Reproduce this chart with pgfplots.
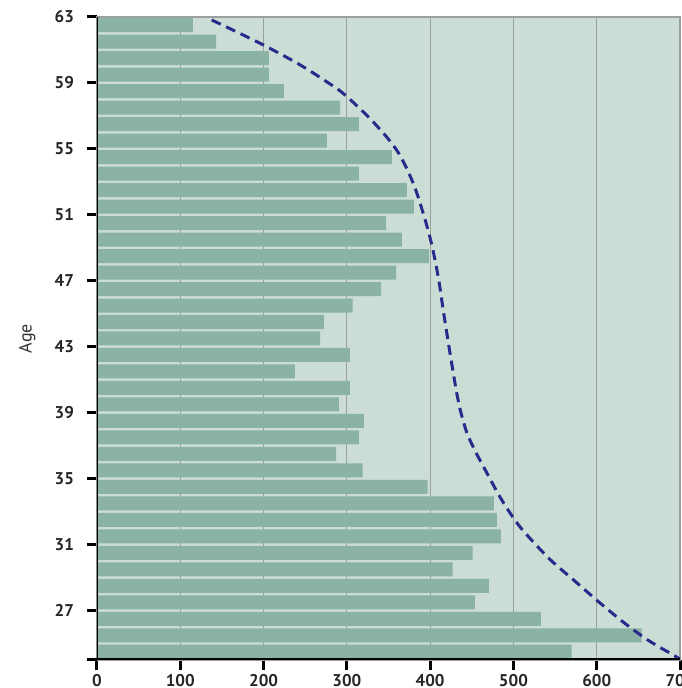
\documentclass[border=0pt]{standalone}
\usepackage{pgfplots}
\pgfplotsset{compat=1.18}
\usepackage{fontspec}
\setmainfont{PT Sans}
\definecolor{bg}{RGB}{204,221,214}
\definecolor{barc}{RGB}{138,179,165}
\definecolor{curvec}{RGB}{42,42,140}
\definecolor{gridc}{RGB}{155,160,158}
\begin{document}
\begin{tikzpicture}
\begin{axis}[name=ax, scale only axis, width=291.5pt, height=321.5pt,
  xmin=0, xmax=700, ymin=24, ymax=63,
  xtick={0,100,...,700}, ytick={27,31,...,63},
  extra y ticks={24}, extra y tick labels={},
  tick pos=left, tick align=outside,
  major tick length=5pt,
  axis background/.style={fill=bg},
  axis line style={gridc, line width=0.6pt},
  xmajorgrids, major grid style={gridc, line width=0.6pt},
  xtick style={black, line width=1.5pt},
  ytick style={black, line width=1.5pt},
  extra y tick style={tick style={black, line width=1.5pt}},
  ticklabel style={font=\fontsize{8.5}{10}\selectfont\bfseries, text=black!85},
  /pgf/number format/assume math mode=true,
  /pgf/number format/1000 sep={},
  xticklabel style={yshift=1.5pt},
  yticklabel style={xshift=-3pt},
  ylabel={Age},
  every axis y label/.style={at={(axis description cs:-0.12,0.5)}, rotate=90, anchor=center, font=\fontsize{9}{11}\selectfont, text=black!80},
]
\addplot[xbar, bar width=0.85, fill=barc, draw=none, bar shift=0pt] coordinates {
(115,62.5) (143,61.5) (206.5,60.5) (206.5,59.5) (224.5,58.5) (292,57.5)
(314.5,56.5) (276,55.5) (354,54.5) (314.5,53.5) (372,52.5) (380.6,51.5)
(347,50.5) (366,49.5) (398.6,48.5) (359,47.5) (341,46.5) (307,45.5)
(272.5,44.5) (268,43.5) (303.7,42.5) (237.7,41.5) (303.7,40.5) (290.5,39.5)
(320.5,38.5) (314.5,37.5) (287,36.5) (319,35.5) (397,34.5) (476.6,33.5)
(480,32.5) (485,31.5) (451,30.5) (427,29.5) (470.6,28.5) (453.8,27.5)
(533,26.5) (654,25.5) (570,24.5)
};
\addplot[curvec, line width=1.5pt, dash pattern=on 5pt off 3pt, smooth, tension=0.55, mark=none] coordinates {
(137.7,62.82) (171.7,62.0) (203.7,61.2) (243.7,60.1) (275.8,59.07) (295.7,58.36)
(323.8,57.04) (347.8,55.72) (363.8,54.6) (379.8,52.9) (391.8,51.07) (401.7,49.24)
(409.8,47.2) (415.8,45.19) (421.8,43.26) (426.5,41.8) (431,40.45) (436,39.2)
(444,37.8) (453.8,36.7) (462.2,35.9) (471.8,35.0) (481.4,34.1) (491,33.3)
(503,32.4) (515.9,31.6) (543.9,30.1) (573.9,28.78) (603.9,27.46) (635.9,26.14)
(663.9,25.13) (690,24.36) (700,24.05)
};
\draw[black, line width=1.5pt] (rel axis cs:0,1) -- (rel axis cs:0,0) -- (rel axis cs:1,0);
\end{axis}
\pgfresetboundingbox
\useasboundingbox ([xshift=-48.5pt,yshift=-14pt]ax.south west) rectangle ([xshift=0.5pt,yshift=8.5pt]ax.north east);
\end{tikzpicture}
\end{document}
